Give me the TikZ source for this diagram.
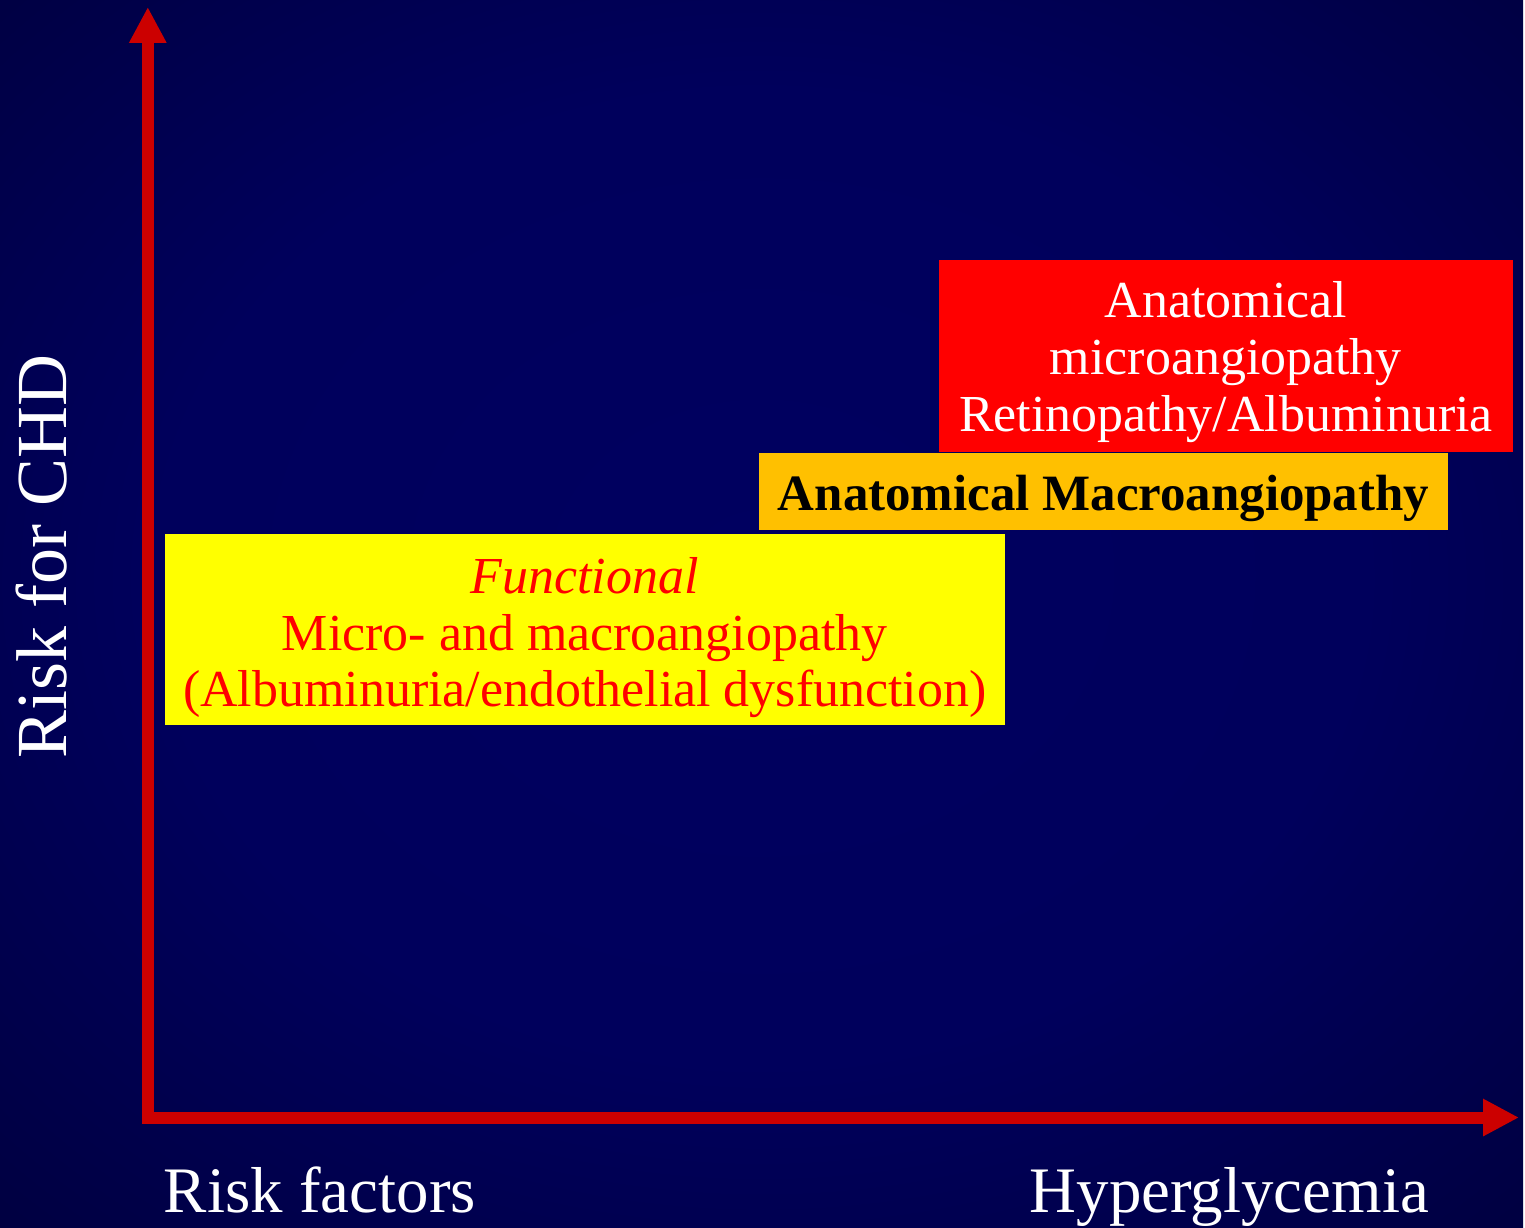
\documentclass[tikz,border=0pt]{standalone}
\usepackage{fontspec}
\setmainfont{Liberation Serif}
\usetikzlibrary{arrows.meta}
\definecolor{navyin}{RGB}{0,0,96}
\definecolor{navymid}{RGB}{0,0,42}
\definecolor{navyout}{RGB}{0,0,18}
\definecolor{axisred}{RGB}{204,0,0}
\definecolor{boxred}{RGB}{255,0,0}
\definecolor{boxorange}{RGB}{255,192,0}
\definecolor{boxyellow}{RGB}{255,255,0}
\pgfdeclareradialshading{bgglow}{\pgfpoint{0bp}{2bp}}{color(0bp)=(navyin); color(20bp)=(navyin!92!navymid); color(50bp)=(navymid); color(72bp)=(navyout)}
\begin{document}
\begin{tikzpicture}[x=1pt, y=1pt,
  box/.style={rectangle, inner sep=0pt},
  boxtext/.style={inner sep=0pt, align=center, font=\fontsize{52}{57}\selectfont},
  axis/.style={draw=axisred, line width=12pt, -{Triangle[length=36pt, width=35pt]}},
  lbl/.style={inner sep=0pt, text=white, font=\fontsize{65}{70}\selectfont}]
  \shade[shading=bgglow] (0,0) rectangle (1525,1229);

  % axes
  \coordinate (orig) at (148,110);
  \coordinate (ytip) at (148,1222);
  \coordinate (xtip) at (1521,110);
  \draw [axis] (orig) -- (ytip);
  \draw [axis] ([xshift=-6pt]orig) -- (xtip);

  % boxes
  \node [box, fill=boxred, minimum width=575pt, minimum height=193pt] (micro) at (1227.5,872.5) {};
  \node [boxtext, text=white] (microtxt) at ([yshift=-6pt]micro.center)
    {Anatomical\\microangiopathy\\Retinopathy/Albuminuria};
  \node [box, fill=boxorange, minimum width=690pt, minimum height=77pt] (macro) at (1105,736.5) {};
  \node [boxtext, text=black, font=\fontsize{51}{57}\selectfont\bfseries] (macrotxt) at ([yshift=-7pt]macro.center)
    {Anatomical Macroangiopathy};
  \node [box, fill=boxyellow, minimum width=841pt, minimum height=191pt] (func) at (585.5,598.5) {};
  \node [boxtext, text=boxred] (functxt) at ([yshift=-8pt]func.center)
    {\textit{Functional}\\Micro- and macroangiopathy\\(Albuminuria/endothelial dysfunction)};

  % axis labels
  \node [lbl, anchor=base west] (riskf) at (164,15) {Risk factors};
  \node [lbl, anchor=base west] (hyper) at (1031,15) {Hyperglycemia};
  \node [lbl, rotate=90, anchor=base, font=\fontsize{72}{76}\selectfont] (chd) at (67,672) {Risk for CHD};
\end{tikzpicture}
\end{document}
